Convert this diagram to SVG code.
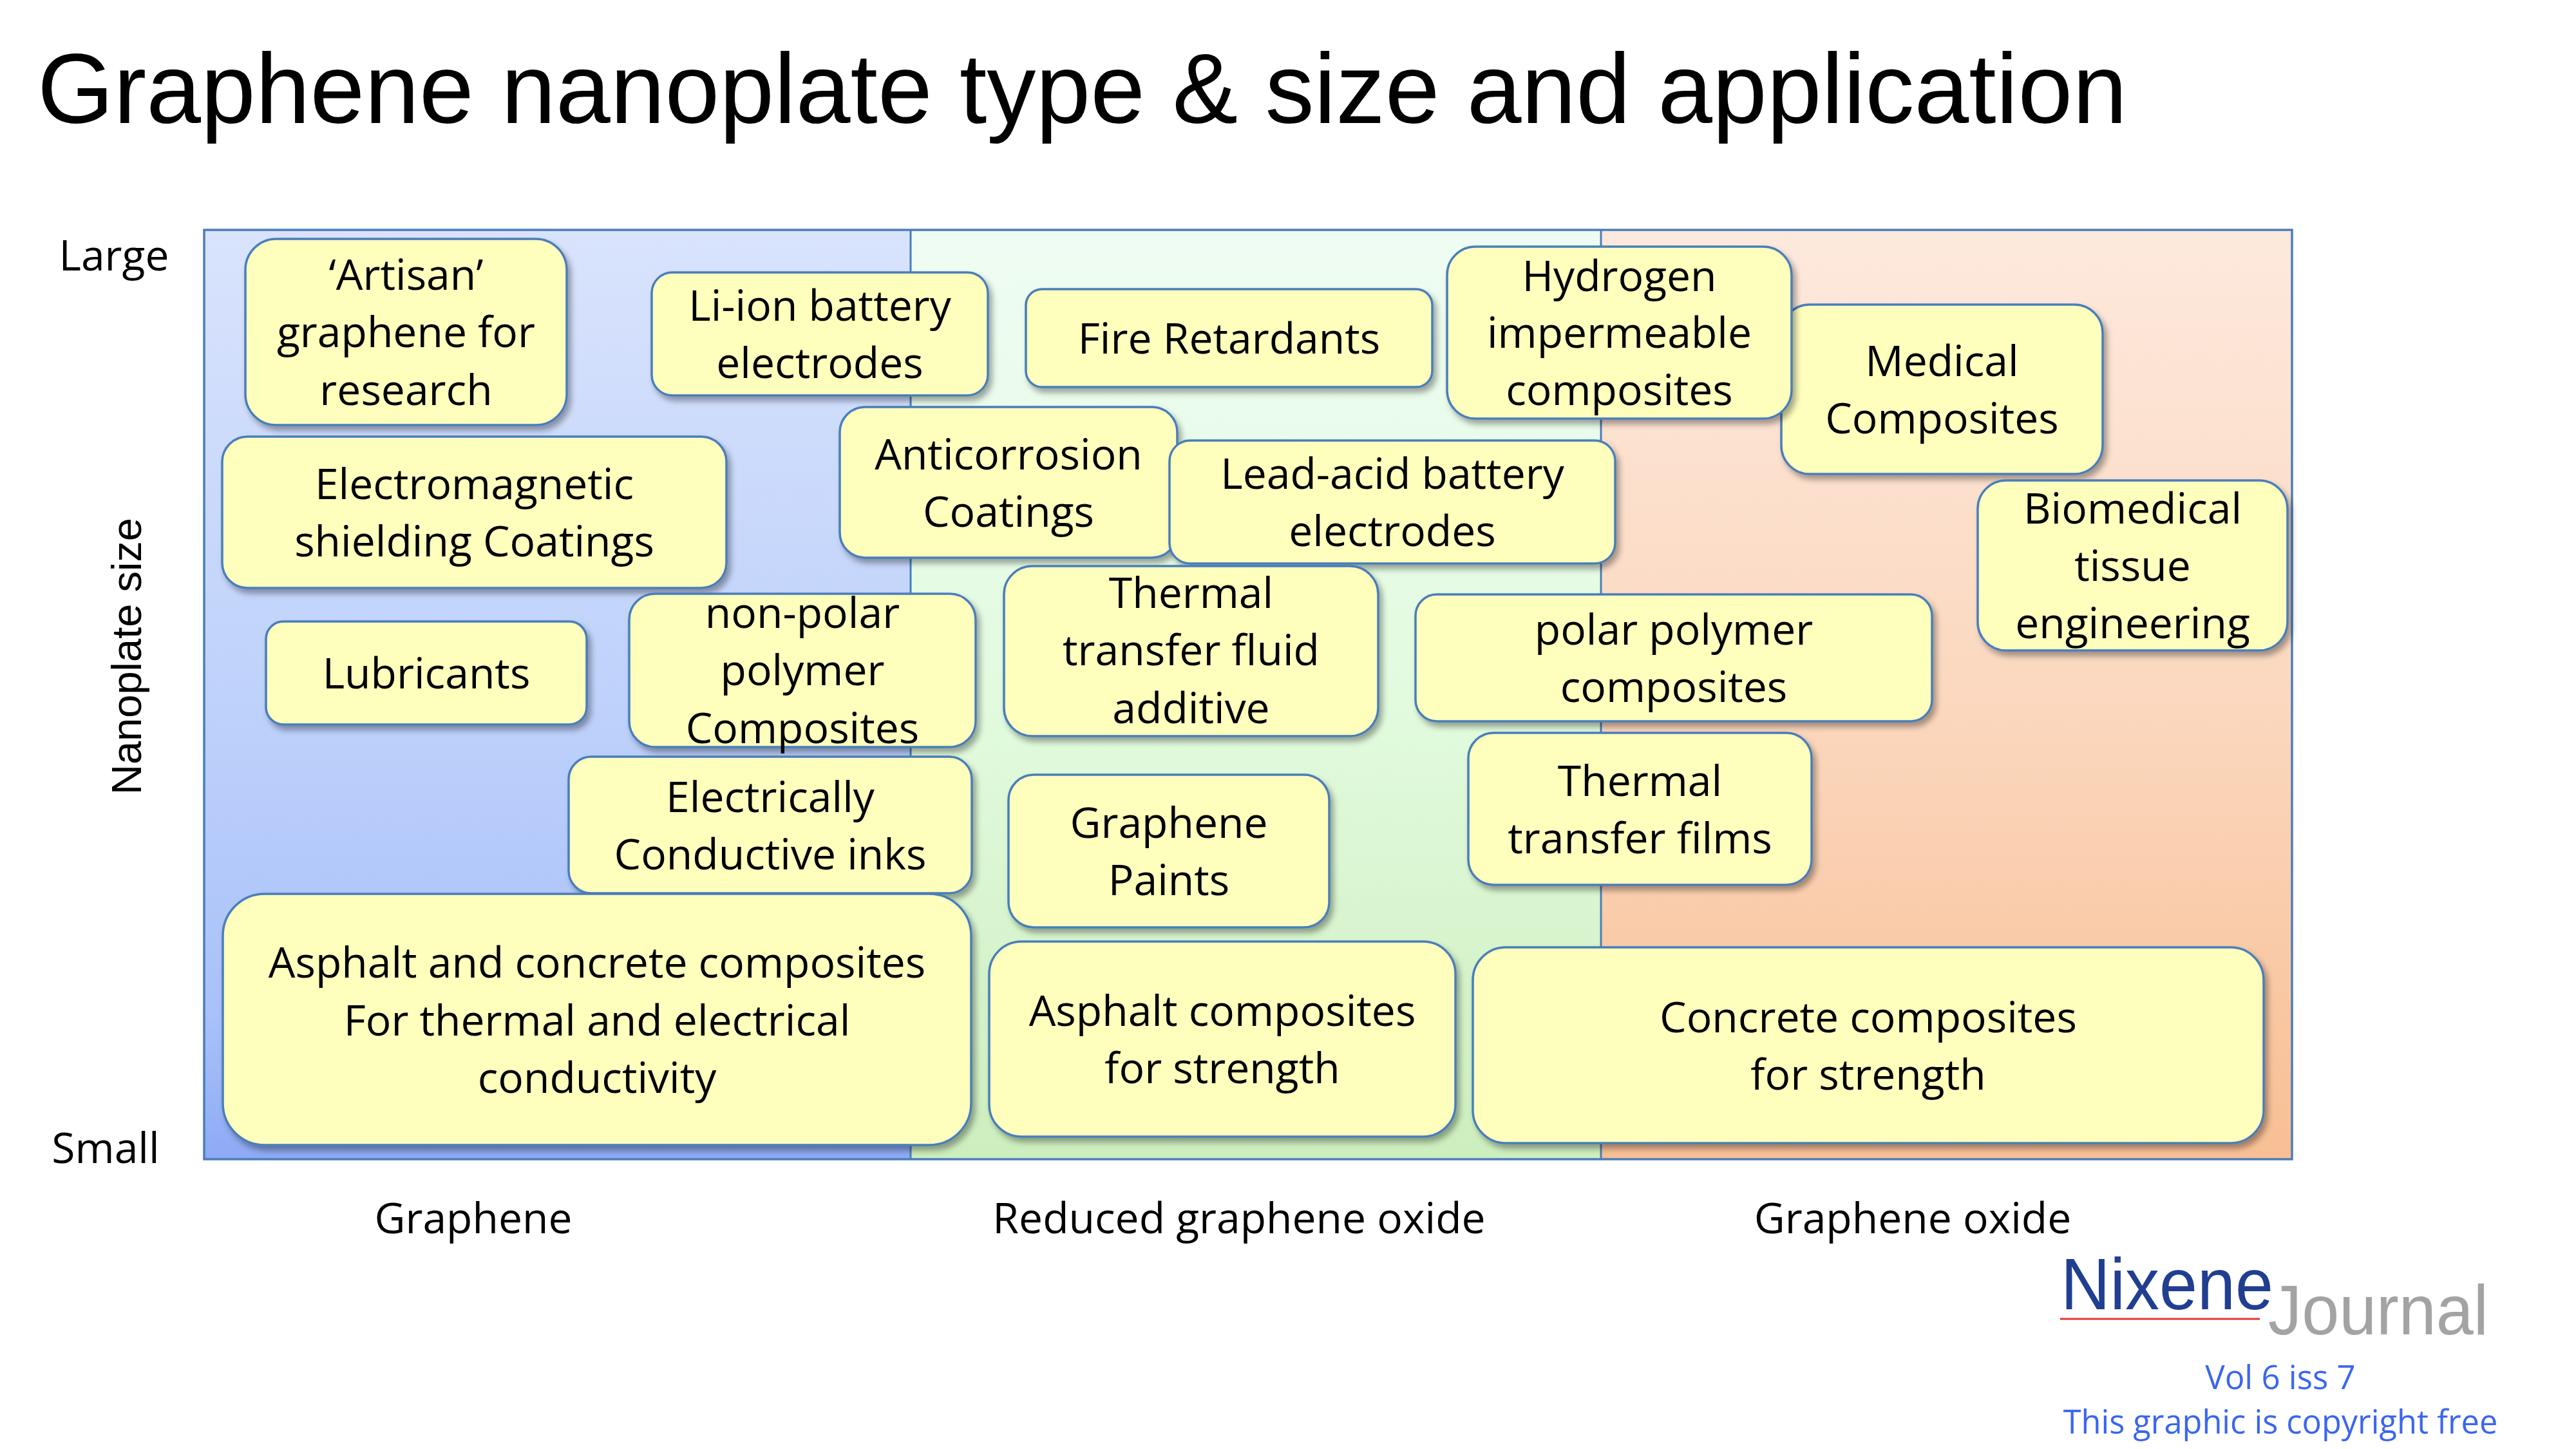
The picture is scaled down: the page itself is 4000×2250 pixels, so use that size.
<svg xmlns="http://www.w3.org/2000/svg" width="4000" height="2250" viewBox="0 0 4000 2250">
<defs>
<linearGradient id="gBlue" x1="0" y1="0" x2="0" y2="1">
<stop offset="0" stop-color="#d9e3fc"/><stop offset="0.5" stop-color="#bfd2fb"/><stop offset="0.85" stop-color="#a9c1f9"/><stop offset="1" stop-color="#8eaaf5"/>
</linearGradient>
<linearGradient id="gGreen" x1="0" y1="0" x2="0" y2="1">
<stop offset="0" stop-color="#effcf3"/><stop offset="0.5" stop-color="#e2fbdf"/><stop offset="1" stop-color="#cdeebe"/>
</linearGradient>
<linearGradient id="gOrange" x1="0" y1="0" x2="0" y2="1">
<stop offset="0" stop-color="#fde9dd"/><stop offset="0.5" stop-color="#fbd8bf"/><stop offset="1" stop-color="#f8bf94"/>
</linearGradient>
<filter id="sh" x="-10%" y="-10%" width="120%" height="130%">
<feDropShadow dx="5" dy="7" stdDeviation="5" flood-color="#000" flood-opacity="0.35"/>
</filter>
</defs>
<style>
.box{fill:#fefebd;stroke:#4a7ebb;stroke-width:3.5;filter:url(#sh)}
.t{font-family:'Open Sans','Liberation Sans',sans-serif;font-size:66px;text-anchor:middle;fill:#000}
.ax{font-family:'Open Sans','Liberation Sans',sans-serif;font-size:66px;text-anchor:middle;fill:#000}
.frame{fill:none;stroke:#4a7ebb;stroke-width:3.5}
.div{stroke:#4a7ebb;stroke-width:3}
.foot{font-family:'Open Sans','Liberation Sans',sans-serif;text-anchor:middle;fill:#3a66f0}
</style>
<rect width="4000" height="2250" fill="#ffffff"/>
<text x="58" y="191" font-family="'Liberation Sans',Arial,sans-serif" font-size="154" textLength="3245" lengthAdjust="spacingAndGlyphs" fill="#000">Graphene nanoplate type &amp; size and application</text>
<g id="chart">
<rect x="317" y="357" width="1097" height="1443" fill="url(#gBlue)"/>
<rect x="1414" y="357" width="1072" height="1443" fill="url(#gGreen)"/>
<rect x="2486" y="357" width="1073" height="1443" fill="url(#gOrange)"/>
<line class="div" x1="1414" y1="357" x2="1414" y2="1800"/>
<line class="div" x1="2486" y1="357" x2="2486" y2="1800"/>
<rect class="frame" x="317" y="357" width="3242" height="1443"/>
</g>
<g id="axes">
<text class="ax" x="177" y="420">Large</text>
<text class="ax" x="164" y="1806">Small</text>
<text transform="translate(219,1019) rotate(-90)" x="0" y="0" font-family="'Liberation Sans',Arial,sans-serif" font-size="65" text-anchor="middle" fill="#000">Nanoplate size</text>
<text class="ax" x="735" y="1915">Graphene</text>
<text class="ax" x="1924" y="1915">Reduced graphene oxide</text>
<text class="ax" x="2970" y="1915">Graphene oxide</text>
</g>
<g id="connectors"/>
<g id="n-artisan"><rect class="box" x="381" y="371" width="499" height="289" rx="48"/><text class="t"><tspan x="630.5" y="450">‘Artisan’</tspan><tspan x="630.5" y="539">graphene for</tspan><tspan x="630.5" y="629">research</tspan></text></g>
<g id="n-liion"><rect class="box" x="1012" y="423" width="522" height="191" rx="32"/><text class="t"><tspan x="1273" y="498">Li-ion battery</tspan><tspan x="1273" y="587">electrodes</tspan></text></g>
<g id="n-fire"><rect class="box" x="1593" y="449" width="631" height="152" rx="25"/><text class="t"><tspan x="1908.5" y="549">Fire Retardants</tspan></text></g>
<g id="n-medical"><rect class="box" x="2766" y="473" width="499" height="263" rx="44"/><text class="t"><tspan x="3015.5" y="584">Medical</tspan><tspan x="3015.5" y="673">Composites</tspan></text></g>
<g id="n-hydrogen"><rect class="box" x="2247" y="383" width="535" height="267" rx="44"/><text class="t"><tspan x="2514.5" y="452">Hydrogen</tspan><tspan x="2514.5" y="540">impermeable</tspan><tspan x="2514.5" y="629">composites</tspan></text></g>
<g id="n-emshield"><rect class="box" x="345" y="678" width="783" height="235" rx="39"/><text class="t"><tspan x="736.5" y="775">Electromagnetic</tspan><tspan x="736.5" y="864">shielding Coatings</tspan></text></g>
<g id="n-anticorrosion"><rect class="box" x="1304" y="632" width="524" height="234" rx="39"/><text class="t"><tspan x="1566" y="729">Anticorrosion</tspan><tspan x="1566" y="818">Coatings</tspan></text></g>
<g id="n-leadacid"><rect class="box" x="1816" y="684" width="692" height="191" rx="32"/><text class="t"><tspan x="2162" y="759">Lead-acid battery</tspan><tspan x="2162" y="848">electrodes</tspan></text></g>
<g id="n-biomedical"><rect class="box" x="3071" y="746" width="481" height="264" rx="44"/><text class="t"><tspan x="3311.5" y="813">Biomedical</tspan><tspan x="3311.5" y="902">tissue</tspan><tspan x="3311.5" y="991">engineering</tspan></text></g>
<g id="n-lubricants"><rect class="box" x="413" y="965" width="498" height="160" rx="27"/><text class="t"><tspan x="662" y="1069">Lubricants</tspan></text></g>
<g id="n-nonpolar"><rect class="box" x="977" y="922" width="538" height="238" rx="40"/><text class="t"><tspan x="1246" y="975">non-polar</tspan><tspan x="1246" y="1064">polymer</tspan><tspan x="1246" y="1154">Composites</tspan></text></g>
<g id="n-thermalfluid"><rect class="box" x="1559" y="879" width="581" height="264" rx="44"/><text class="t"><tspan x="1849.5" y="944">Thermal</tspan><tspan x="1849.5" y="1033">transfer fluid</tspan><tspan x="1849.5" y="1123">additive</tspan></text></g>
<g id="n-polar"><rect class="box" x="2198" y="923" width="802" height="197" rx="33"/><text class="t"><tspan x="2599" y="1001">polar polymer</tspan><tspan x="2599" y="1090">composites</tspan></text></g>
<g id="n-thermalfilms"><rect class="box" x="2280" y="1138" width="533" height="236" rx="39"/><text class="t"><tspan x="2546.5" y="1236">Thermal</tspan><tspan x="2546.5" y="1325">transfer films</tspan></text></g>
<g id="n-inks"><rect class="box" x="883" y="1175" width="626" height="212" rx="35"/><text class="t"><tspan x="1196" y="1261">Electrically</tspan><tspan x="1196" y="1350">Conductive inks</tspan></text></g>
<g id="n-paints"><rect class="box" x="1566" y="1203" width="498" height="237" rx="39"/><text class="t"><tspan x="1815" y="1301">Graphene</tspan><tspan x="1815" y="1390">Paints</tspan></text></g>
<g id="n-asphaltconcrete"><rect class="box" x="346" y="1388" width="1162" height="390" rx="65"/><text class="t"><tspan x="927" y="1518">Asphalt and concrete composites</tspan><tspan x="927" y="1608">For thermal and electrical</tspan><tspan x="927" y="1697">conductivity</tspan></text></g>
<g id="n-asphalt"><rect class="box" x="1536" y="1462" width="724" height="303" rx="50"/><text class="t"><tspan x="1898" y="1593">Asphalt composites</tspan><tspan x="1898" y="1682">for strength</tspan></text></g>
<g id="n-concrete"><rect class="box" x="2287" y="1471" width="1228" height="304" rx="51"/><text class="t"><tspan x="2901" y="1603">Concrete composites</tspan><tspan x="2901" y="1692">for strength</tspan></text></g>
<g id="logo">
<text x="3200" y="2033" font-family="'Liberation Sans',Arial,sans-serif" font-size="114" textLength="330" lengthAdjust="spacingAndGlyphs" fill="#213f90">Nixene</text>
<line x1="3199" y1="2048" x2="3509" y2="2048" stroke="#e0363a" stroke-width="3"/>
<text x="3522" y="2072" font-family="'Liberation Sans',Arial,sans-serif" font-size="110" textLength="342" lengthAdjust="spacingAndGlyphs" fill="#a3a3a3">Journal</text>
<text class="foot" x="3541" y="2157" font-size="51">Vol 6 iss 7</text>
<text class="foot" x="3541" y="2226" font-size="50.5">This graphic is copyright free</text>
</g>
</svg>
